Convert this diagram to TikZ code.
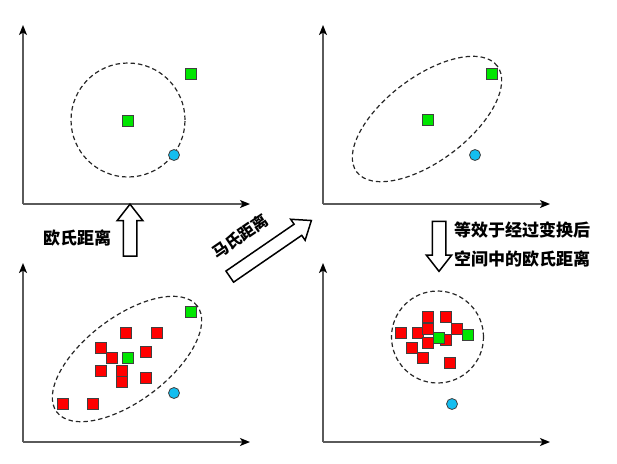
\documentclass[tikz,border=0pt]{standalone}
\usepackage{fontspec}
\newfontfamily\cjk{Noto Sans CJK SC}
\usetikzlibrary{shapes.arrows, arrows.meta}
\definecolor{ptred}{RGB}{255,0,0}
\definecolor{ptgreen}{RGB}{0,230,0}
\definecolor{ptblue}{RGB}{20,190,240}
\definecolor{axisgray}{RGB}{90,90,90}
\tikzset{
    axis/.style={draw=axisgray, line width=1.4pt, -{Stealth[length=10pt, width=8pt, inset=2.5pt, color=black]}},
    region/.style={draw=black!85, line width=1.2pt, dash pattern=on 4.5pt off 3pt},
    redpt/.style={draw=black!75, line width=0.8pt, fill=ptred, minimum size=11pt, inner sep=0pt},
    greenpt/.style={redpt, fill=ptgreen},
    bluept/.style={circle, draw=black!75, line width=0.8pt, fill=ptblue, minimum size=11pt, inner sep=0pt},
    hollow/.style={single arrow, draw, line width=1.5pt, inner xsep=0pt, inner ysep=6pt,
        minimum height=52pt, single arrow head extend=6pt, single arrow tip angle=76},
    lbl/.style={font=\cjk\bfseries\fontsize{17}{29}\selectfont, inner sep=0pt}
}
\begin{document}
\begin{tikzpicture}[x=1pt, y=-1pt]
    \useasboundingbox (0,0) rectangle (617,463);
    % axes of the four panels
    \foreach \ox/\oy [count=\i] in {23/204, 323/204, 23/442, 323/442} {
        \coordinate (o\i) at (\ox,\oy);
        \coordinate (x\i) at (\ox+227,\oy);
        \coordinate (y\i) at (\ox,\oy-179);
        \draw[axis] (o\i) -- (x\i);
        \draw[axis] (o\i) -- (y\i);
    }
    % dashed regions
    \draw[region] (128,120) circle[radius=57pt];
    \draw[region, rotate around={37:(427,119)}] (427,119) ellipse[x radius=88pt, y radius=42pt];
    \draw[region, rotate around={37:(127,359)}] (127,359) ellipse[x radius=88pt, y radius=42pt];
    \draw[region] (437.5,337) circle[radius=46pt];
    % top panels
    \node[greenpt] (ga1) at (128,121) {};
    \node[greenpt] (ga2) at (191,74) {};
    \node[bluept]  (ba)  at (174,155) {};
    \node[greenpt] (gb1) at (428,120) {};
    \node[greenpt] (gb2) at (492,74) {};
    \node[bluept]  (bb)  at (475,155) {};
    % bottom left: samples
    \foreach \px/\py [count=\i] in {126/333, 157/333, 101/348, 112/358, 146/352, 101/371,
            122/382, 122/371, 146/378, 63/404, 93/404}
        \node[redpt] (rc\i) at (\px,\py) {};
    \node[greenpt] (gc1) at (128,358) {};
    \node[greenpt] (gc2) at (191,312) {};
    \node[bluept]  (bc)  at (174,393) {};
    % bottom right: transformed samples
    \foreach \px/\py [count=\i] in {428/317, 446/317, 401/333, 418/333, 428/329, 457/329,
            446/340, 428/343, 412/348, 423/358, 450/363}
        \node[redpt] (rd\i) at (\px,\py) {};
    \node[greenpt] (gd1) at (439,338) {};
    \node[greenpt] (gd2) at (468,335) {};
    \node[bluept]  (bd)  at (452,404) {};
    % hollow arrows and labels
    \node[hollow, rotate=90] (up) at (130,234.5) {};
    \node[hollow, rotate=34.5, minimum height=99pt] (diag) at (267,251) {};
    \node[hollow, rotate=-90, minimum height=50pt] (down) at (439,242) {};
    \node[lbl] (euc) at (77,238) {欧氏距离};
    \node[lbl, font=\cjk\bfseries\fontsize{16}{20}\selectfont, rotate=34.5] (mah) at (240,236) {马氏距离};
    \node[lbl, align=left, anchor=west] (equiv) at (454,244) {等效于经过变换后\\空间中的欧氏距离};
\end{tikzpicture}
\end{document}
